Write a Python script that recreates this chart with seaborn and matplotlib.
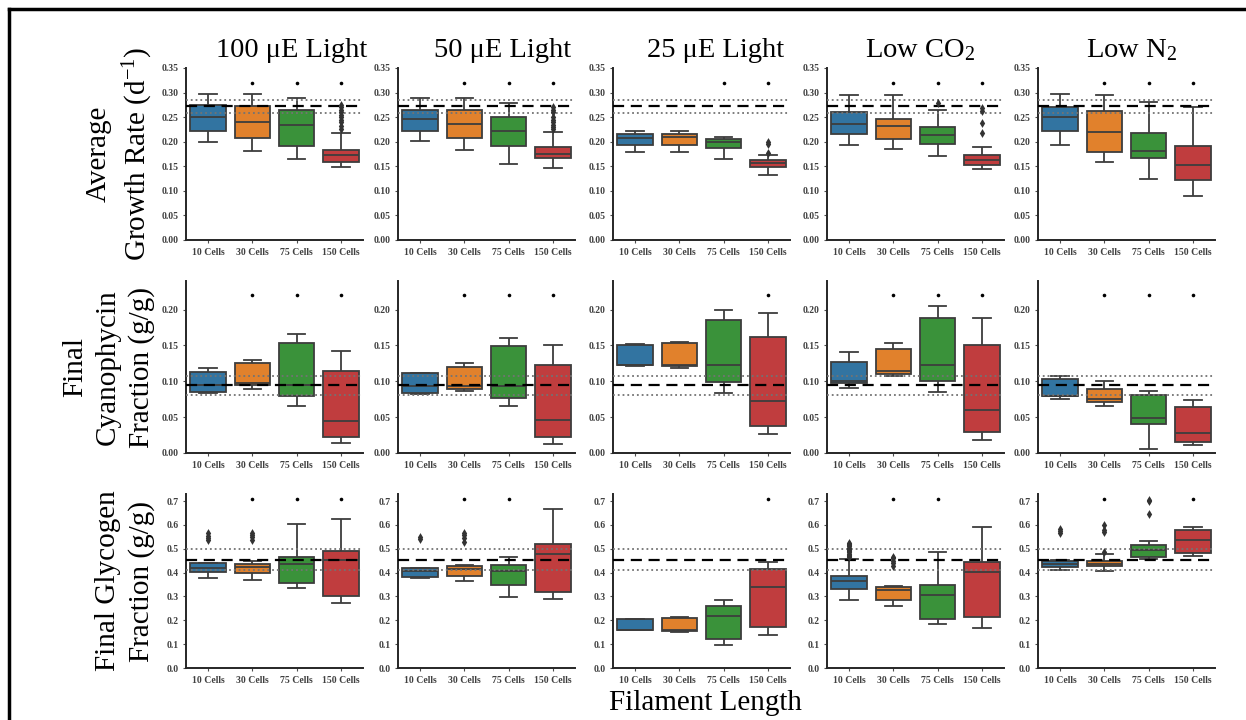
import numpy as np
import pandas as pd
import matplotlib
matplotlib.use("Agg")
import matplotlib.pyplot as plt
from matplotlib.lines import Line2D
import seaborn as sns

# categories
lengths = ["10 Cells", "30 Cells", "75 Cells", "150 Cells"]
conditions = ["100 μE Light", "50 μE Light", "25 μE Light", "Low CO$_2$", "Low N$_2$"]

# box stats per condition: (low whisker, q1, median, q3, high whisker) for each length
growth_boxes = [
    [(0.200, 0.222, 0.251, 0.2755, 0.297), (0.182, 0.208, 0.240, 0.272, 0.297),
     (0.164, 0.192, 0.235, 0.264, 0.288), (0.148, 0.158, 0.172, 0.183, 0.218)],
    [(0.201, 0.222, 0.246, 0.265, 0.288), (0.183, 0.208, 0.237, 0.265, 0.288),
     (0.154, 0.192, 0.222, 0.250, 0.278), (0.146, 0.167, 0.176, 0.190, 0.219)],
    [(0.180, 0.194, 0.208, 0.216, 0.221), (0.180, 0.194, 0.210, 0.216, 0.221),
     (0.165, 0.1875, 0.200, 0.2065, 0.210), (0.133, 0.149, 0.156, 0.162, 0.173)],
    [(0.194, 0.215, 0.236, 0.261, 0.295), (0.185, 0.206, 0.231, 0.246, 0.295),
     (0.171, 0.195, 0.214, 0.229, 0.264), (0.144, 0.153, 0.1625, 0.172, 0.190)],
    [(0.193, 0.222, 0.250, 0.270, 0.297), (0.159, 0.180, 0.220, 0.263, 0.295),
     (0.125, 0.166, 0.181, 0.217, 0.281), (0.090, 0.122, 0.152, 0.192, 0.270)],
]
cyano_boxes = [
    [(0.084, 0.085, 0.095, 0.113, 0.119), (0.090, 0.0946, 0.098, 0.125, 0.130),
     (0.066, 0.079, 0.095, 0.153, 0.166), (0.0135, 0.022, 0.044, 0.115, 0.143)],
    [(0.083, 0.084, 0.094, 0.111, 0.112), (0.087, 0.090, 0.093, 0.120, 0.126),
     (0.065, 0.077, 0.094, 0.149, 0.161), (0.013, 0.022, 0.0465, 0.123, 0.151)],
    [(0.122, 0.123, 0.123, 0.151, 0.152), (0.119, 0.121, 0.123, 0.153, 0.155),
     (0.084, 0.0995, 0.123, 0.185, 0.200), (0.0265, 0.038, 0.073, 0.162, 0.195)],
    [(0.091, 0.097, 0.101, 0.127, 0.141), (0.107, 0.110, 0.115, 0.145, 0.1535),
     (0.085, 0.101, 0.123, 0.188, 0.2055), (0.0186, 0.030, 0.0605, 0.151, 0.188)],
    [(0.076, 0.079, 0.080, 0.1035, 0.108), (0.065, 0.071, 0.075, 0.090, 0.100),
     (0.006, 0.040, 0.049, 0.081, 0.086), (0.011, 0.015, 0.028, 0.0645, 0.074)],
]
glyco_boxes = [
    [(0.378, 0.403, 0.420, 0.4396, 0.441), (0.370, 0.400, 0.423, 0.438, 0.451),
     (0.336, 0.358, 0.437, 0.466, 0.606), (0.274, 0.302, 0.455, 0.489, 0.626)],
    [(0.379, 0.380, 0.405, 0.418, 0.419), (0.364, 0.386, 0.416, 0.427, 0.434),
     (0.296, 0.349, 0.407, 0.431, 0.464), (0.289, 0.319, 0.480, 0.522, 0.665)],
    [(0.158, 0.160, 0.161, 0.205, 0.206), (0.151, 0.155, 0.158, 0.211, 0.215),
     (0.096, 0.120, 0.218, 0.259, 0.285), (0.138, 0.173, 0.338, 0.416, 0.446)],
    [(0.287, 0.333, 0.367, 0.385, 0.459), (0.261, 0.284, 0.329, 0.339, 0.346),
     (0.185, 0.207, 0.306, 0.347, 0.488), (0.169, 0.212, 0.404, 0.446, 0.590)],
    [(0.411, 0.425, 0.4375, 0.449, 0.454), (0.406, 0.429, 0.4375, 0.450, 0.477),
     (0.456, 0.464, 0.494, 0.5165, 0.5335), (0.471, 0.481, 0.539, 0.579, 0.591)],
]

# outliers per condition
growth_fliers = [
    {"150 Cells": [0.225, 0.232, 0.24, 0.245, 0.25, 0.255, 0.26, 0.265, 0.27, 0.275]},
    {"150 Cells": [0.225, 0.23, 0.235, 0.24, 0.245, 0.25, 0.26, 0.265, 0.27]},
    {"150 Cells": [0.178, 0.195, 0.2]},
    {"75 Cells": [0.278], "150 Cells": [0.218, 0.238, 0.262, 0.268]},
    {},
]
cyano_fliers = [{}, {}, {}, {}, {}]
glyco_fliers = [
    {"10 Cells": [0.535, 0.545, 0.555, 0.565], "30 Cells": [0.535, 0.548, 0.56, 0.568]},
    {"10 Cells": [0.54, 0.55], "30 Cells": [0.528, 0.545, 0.558, 0.568]},
    {},
    {"10 Cells": [0.465, 0.47, 0.475, 0.48, 0.485, 0.49, 0.495, 0.5, 0.505, 0.51, 0.515, 0.52, 0.525],
     "30 Cells": [0.43, 0.44, 0.45, 0.46, 0.467]},
    {"10 Cells": [0.565, 0.575, 0.582], "30 Cells": [0.485, 0.57, 0.58, 0.60],
     "75 Cells": [0.645, 0.70, 0.705]},
]

# significance marks
growth_stars = [lengths[1:], lengths[1:], lengths[2:], lengths[1:], lengths[1:]]
cyano_stars = [lengths[1:], lengths[1:], lengths[3:], lengths[1:], lengths[1:]]
glyco_stars = [lengths[1:], lengths[1:3], lengths[3:], lengths[1:3], ["30 Cells", "150 Cells"]]
star_level = [0.32, 0.22, 0.71]

# reference (mean +/- sd) lines per row
ref_mean = [0.272, 0.0946, 0.455]
ref_sd = [0.0135, 0.013, 0.045]

row_labels = ["Average\nGrowth Rate (d$^{-1}$)", "Final\nCyanophycin\nFraction (g/g)",
              "Final Glycogen\nFraction (g/g)"]
y_max = [0.35, 0.24, 0.73]
y_ticks = [np.arange(0, 0.351, 0.05), np.arange(0, 0.201, 0.05), np.arange(0, 0.71, 0.1)]
y_fmt = ["{:.2f}", "{:.2f}", "{:.1f}"]

plt.rcParams["font.family"] = ["Liberation Serif", "DejaVu Serif"]
plt.rcParams["mathtext.fontset"] = "custom"
plt.rcParams["mathtext.rm"] = "Liberation Serif"
plt.rcParams["mathtext.it"] = "Liberation Serif:italic"

palette = sns.color_palette("tab10", 4)
W, H = 1246, 720
fig = plt.figure(figsize=(W / 100, H / 100), dpi=100)

col_left = [186, 398, 613, 827, 1038]
ax_w = 177
row_top = [68, 281, 494]
row_bot = [240, 453, 668]
title_x = [292, 503, 716, 920, 1132]

all_boxes = [growth_boxes, cyano_boxes, glyco_boxes]
all_fliers = [growth_fliers, cyano_fliers, glyco_fliers]
all_stars = [growth_stars, cyano_stars, glyco_stars]

for r in range(3):
    for c in range(5):
        ax = fig.add_axes([col_left[c] / W, 1 - row_bot[r] / H, ax_w / W,
                           (row_bot[r] - row_top[r]) / H])
        recs = []
        for L, stats in zip(lengths, all_boxes[r][c]):
            for v in stats:
                recs.append((L, v))
        df = pd.DataFrame(recs, columns=["length", "value"])
        sns.boxplot(data=df, x="length", y="value", hue="length", order=lengths,
                    hue_order=lengths, palette=palette, whis=(0, 100), showfliers=False,
                    linewidth=1.3, width=0.8, legend=False, ax=ax)

        fl = [(L, v) for L, vals in all_fliers[r][c].items() for v in vals]
        if fl:
            fdf = pd.DataFrame(fl, columns=["length", "value"])
            sns.stripplot(data=fdf, x="length", y="value", order=lengths, jitter=False,
                          marker="d", color="0.2", size=4.5, ax=ax, zorder=6)

        st = all_stars[r][c]
        sdf = pd.DataFrame({"length": st, "value": [star_level[r]] * len(st)})
        sns.stripplot(data=sdf, x="length", y="value", order=lengths, jitter=False,
                      marker="o", color="black", size=2.6, ax=ax, zorder=6)

        ax.axhline(ref_mean[r], color="black", ls=(0, (5, 3)), lw=1.6, zorder=5)
        ax.axhline(ref_mean[r] + ref_sd[r], color="0.45", ls=":", lw=1.3, zorder=5)
        ax.axhline(ref_mean[r] - ref_sd[r], color="0.45", ls=":", lw=1.3, zorder=5)

        ax.set_xlim(-0.5, 3.5)
        ax.set_ylim(0, y_max[r])
        ax.set_yticks(y_ticks[r])
        ax.set_yticklabels([y_fmt[r].format(t) for t in y_ticks[r]],
                           fontsize=7, fontweight="bold", color="0.25")
        ax.set_xticks(range(4))
        ax.set_xticklabels(lengths, fontsize=7, fontweight="bold", color="0.25")
        ax.tick_params(length=2.5, width=0.8, color="0.3", pad=3)
        ax.set_xlabel("")
        ax.set_ylabel("")
        sns.despine(ax=ax)
        for s in ["left", "bottom"]:
            ax.spines[s].set_linewidth(1.4)
            ax.spines[s].set_color("0.15")

        if r == 0:
            fig.text(title_x[c] / W, 1 - 57 / H, conditions[c], ha="center",
                     va="baseline", fontsize=20.5)

    fig.text(155 / W, 1 - (row_top[r] + row_bot[r]) / 2 / H, row_labels[r],
             rotation=90, ha="right", va="center", multialignment="center",
             fontsize=21, linespacing=1.35)

fig.text(705 / W, 1 - 703 / H, "Filament Length", ha="center", va="center", fontsize=21)

# frame lines on the left and top edges
fig.add_artist(Line2D([9 / W, 9 / W], [0, 1 - 9 / H], color="black", lw=2.5,
                      transform=fig.transFigure))
fig.add_artist(Line2D([9 / W, 1], [1 - 9 / H, 1 - 9 / H], color="black", lw=2.5,
                      transform=fig.transFigure))

fig.savefig("out.png", dpi=100)
